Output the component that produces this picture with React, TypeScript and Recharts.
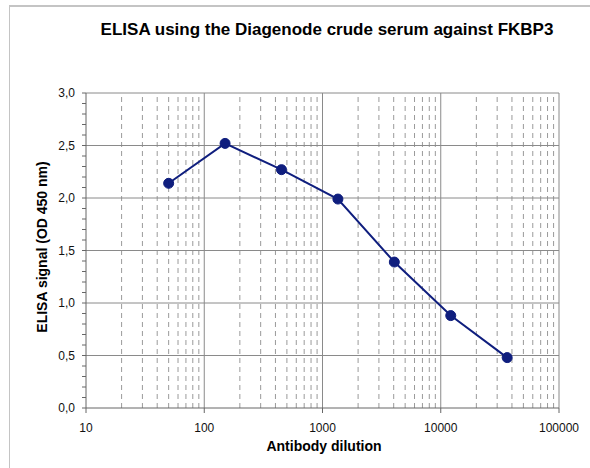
import React from 'react';
import { LineChart, Line, XAxis, YAxis, ReferenceLine } from 'recharts';

const dilutions = [50, 150, 450, 1350, 4050, 12150, 36450];
const signals = [2.14, 2.52, 2.27, 1.99, 1.39, 0.88, 0.48];

const xTicks = [10, 100, 1000, 10000, 100000];
const yMajor = [0.5, 1.0, 1.5, 2.0, 2.5, 3.0];
const yTicks = Array.from({ length: 31 }, (_, i) => Math.round(i) / 10);
const minorSteps = [2, 3, 4, 5, 6, 7, 8, 9];
const decades = [10, 100, 1000, 10000];

const data = dilutions.map((d, i) => ({ dilution: d, signal: signals[i] }));
const xMinor = decades.flatMap((d) => minorSteps.map((m) => d * m));

const FONT = '"Liberation Sans", Arial, sans-serif';

const App: React.FC = () => {
  return (
    <div style={{ position: 'absolute', left: 0, top: 0, width: 590, height: 468, background: '#fff', fontFamily: FONT }}>
      <div
        style={{
          position: 'absolute',
          left: 9,
          top: 5,
          width: 600,
          height: 480,
          borderLeft: '1px solid #c4c4c4',
          borderTop: '2px solid #c4c4c4',
        }}
      />
      <div
        style={{
          position: 'absolute',
          left: 0,
          width: 654,
          top: 20,
          textAlign: 'center',
          fontSize: 17,
          fontWeight: 'bold',
          color: '#000',
        }}
      >
        ELISA using the Diagenode crude serum against FKBP3
      </div>
      <LineChart
        width={590}
        height={468}
        data={data}
        margin={{ top: 93, right: 31, bottom: 30, left: 26 }}
        style={{ position: 'absolute', left: 0, top: 0 }}
      >
        <XAxis
          dataKey="dilution"
          type="number"
          scale="log"
          domain={[10, 100000]}
          ticks={xTicks}
          allowDataOverflow
          height={30}
          tickSize={5}
          tickMargin={10}
          tickFormatter={(v: number) => String(v)}
          tick={{ fill: '#111', fontSize: 12, fontFamily: FONT }}
          stroke="#666"
        />
        <YAxis
          type="number"
          domain={[0, 3]}
          ticks={yTicks}
          interval={0}
          width={60}
          tickSize={4}
          tickMargin={7}
          tickFormatter={(v: number) => (Math.round(v * 10) % 5 === 0 ? v.toFixed(1).replace('.', ',') : '')}
          tick={{ fill: '#111', fontSize: 12, fontFamily: FONT }}
          stroke="#666"
        />
        {xMinor.map((v) => (
          <ReferenceLine key={`xm-${v}`} x={v} stroke="#9a9a9a" strokeDasharray="5 4" />
        ))}
        {xTicks.slice(1).map((v) => (
          <ReferenceLine key={`xM-${v}`} x={v} stroke="#8a8a8a" />
        ))}
        {yMajor.map((v) => (
          <ReferenceLine key={`y-${v}`} y={v} stroke="#8a8a8a" />
        ))}
        <Line
          type="linear"
          dataKey="signal"
          stroke="#0f1e7e"
          strokeWidth={2}
          dot={{ r: 5, fill: '#0f1e7e', stroke: '#0f1e7e', strokeWidth: 1 }}
          isAnimationActive={false}
        />
      </LineChart>
      <div
        style={{
          position: 'absolute',
          left: 86,
          width: 476,
          top: 438,
          textAlign: 'center',
          fontSize: 14,
          fontWeight: 'bold',
          color: '#000',
        }}
      >
        Antibody dilution
      </div>
      <div
        style={{
          position: 'absolute',
          left: 42 - 150,
          top: 248 - 9,
          width: 300,
          textAlign: 'center',
          fontSize: 14,
          fontWeight: 'bold',
          color: '#000',
          transform: 'rotate(-90deg)',
        }}
      >
        ELISA signal (OD 450 nm)
      </div>
    </div>
  );
};

export default App;
